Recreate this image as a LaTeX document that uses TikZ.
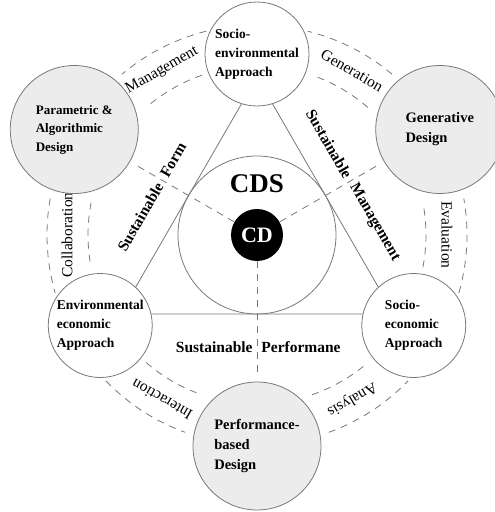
\documentclass[tikz,border=0pt]{standalone}
\usepackage{fontspec}
\setmainfont{Liberation Serif}
\usepackage{tikz}
\usetikzlibrary{positioning}

\definecolor{ringgray}{RGB}{120,120,120}
\definecolor{designfill}{RGB}{236,236,236}

\begin{document}
\begin{tikzpicture}[line width=0.8pt]

    \tikzstyle{approach} = [circle, minimum size=104pt, inner sep=0pt, align=left, draw=ringgray, fill=white, font=\fontsize{13.5}{19}\selectfont\bfseries]
    \tikzstyle{design} = [circle, minimum size=128pt, inner sep=0pt, align=left, draw=ringgray, fill=designfill, font=\fontsize{14.5}{20}\selectfont\bfseries]
    \tikzstyle{flow} = [inner sep=0pt, font=\fontsize{15.5}{18}\selectfont]
    \tikzstyle{goal} = [inner sep=4pt, font=\fontsize{15.5}{18}\selectfont\bfseries]
    \tikzstyle{dashes} = [draw=ringgray, dash pattern=on 7pt off 6pt]

    \useasboundingbox (-257pt,-277pt) rectangle (238pt,235pt);

    % triangle and ring
    \coordinate (ctop)   at (90:158pt);
    \coordinate (cleft)  at (210:158pt);
    \coordinate (cright) at (330:158pt);
    \draw[draw=ringgray] (ctop) -- (cleft) -- (cright) -- cycle;

    \node (cdsring) [circle, minimum size=158pt, draw=ringgray] at (0,0) {};

    \node (cd)  [circle, fill=black, minimum size=52pt, inner sep=0pt, text=white, font=\fontsize{22}{22}\selectfont\bfseries] at (0,0) {CD};

    \node (cds) [above=15pt of cd, inner sep=0pt, font=\fontsize{27}{27}\selectfont\bfseries] {CDS};

    % spokes
    \coordinate (formend) at (150:138pt);
    \coordinate (mgmtend) at (30:138pt);
    \coordinate (perfend) at (270:138pt);
    \path[dashes] (cd) edge (formend);
    \path[dashes] (cd) edge (mgmtend);
    \path[dashes] (cd) edge (perfend);

    \node (formA) [goal, rotate=60, anchor=east]  at (150:110pt) {Sustainable};
    \node (formB) [goal, rotate=60, anchor=west]  at (150:110pt) {Form};
    \node (mgmtA) [goal, rotate=-60, anchor=east] at (30:108pt)  {Sustainable};
    \node (mgmtB) [goal, rotate=-60, anchor=west] at (30:108pt)  {Management};
    \node (perfA) [goal, anchor=east] at (270:112pt) {Sustainable};
    \node (perfB) [goal, anchor=west] at (270:112pt) {Performane};

    % dashed rings between the outer circles
    \draw[dashes] (104:210pt) arc[start angle=104, end angle=130, radius=210pt];
    \draw[dashes] (109:169pt) arc[start angle=109, end angle=131, radius=169pt];
    \draw[dashes] (50:210pt)  arc[start angle=50,  end angle=76,  radius=210pt];
    \draw[dashes] (49:169pt)  arc[start angle=49,  end angle=71,  radius=169pt];
    \draw[dashes] (170:210pt) arc[start angle=170, end angle=196, radius=210pt];
    \draw[dashes] (169:169pt) arc[start angle=169, end angle=191, radius=169pt];
    \draw[dashes] (224:210pt) arc[start angle=224, end angle=250, radius=210pt];
    \draw[dashes] (229:169pt) arc[start angle=229, end angle=251, radius=169pt];
    \draw[dashes] (290:210pt) arc[start angle=290, end angle=316, radius=210pt];
    \draw[dashes] (289:169pt) arc[start angle=289, end angle=311, radius=169pt];
    \draw[dashes] (344:210pt) arc[start angle=344, end angle=370, radius=210pt];
    \draw[dashes] (349:169pt) arc[start angle=349, end angle=371, radius=169pt];

    \node (management)    [flow, rotate=30]  at (120:190pt) {Management};
    \node (generation)    [flow, rotate=-30] at (60:190pt)  {Generation};
    \node (evaluation)    [flow, rotate=-90] at (0:190pt)   {Evaluation};
    \node (analysis)      [flow, rotate=210] at (300:190pt) {Analysis};
    \node (interaction)   [flow, rotate=150] at (240:190pt) {Interaction};
    \node (collaboration) [flow, rotate=90]  at (180:190pt) {Collaboration};

    % approaches
    \node (socioenv)  [approach] at (90:181pt)  {Socio-\\environmental\\Approach};
    \node (envecon)   [approach] at (210:181pt) {Environmental\\economic\\Approach};
    \node (socioecon) [approach] at (330:181pt) {Socio-\\economic\\Approach};

    % designs
    \node (parametric)  [design, font=\fontsize{13}{18.5}\selectfont\bfseries] at (150:211pt) {Parametric \&\\Algorithmic\\Design};
    \node (generative)  [design] at (30:211pt)  {Generative\\Design};
    \node (performance) [design] at (270:211pt) {Performance-\\based\\Design};
\end{tikzpicture}
\end{document}
